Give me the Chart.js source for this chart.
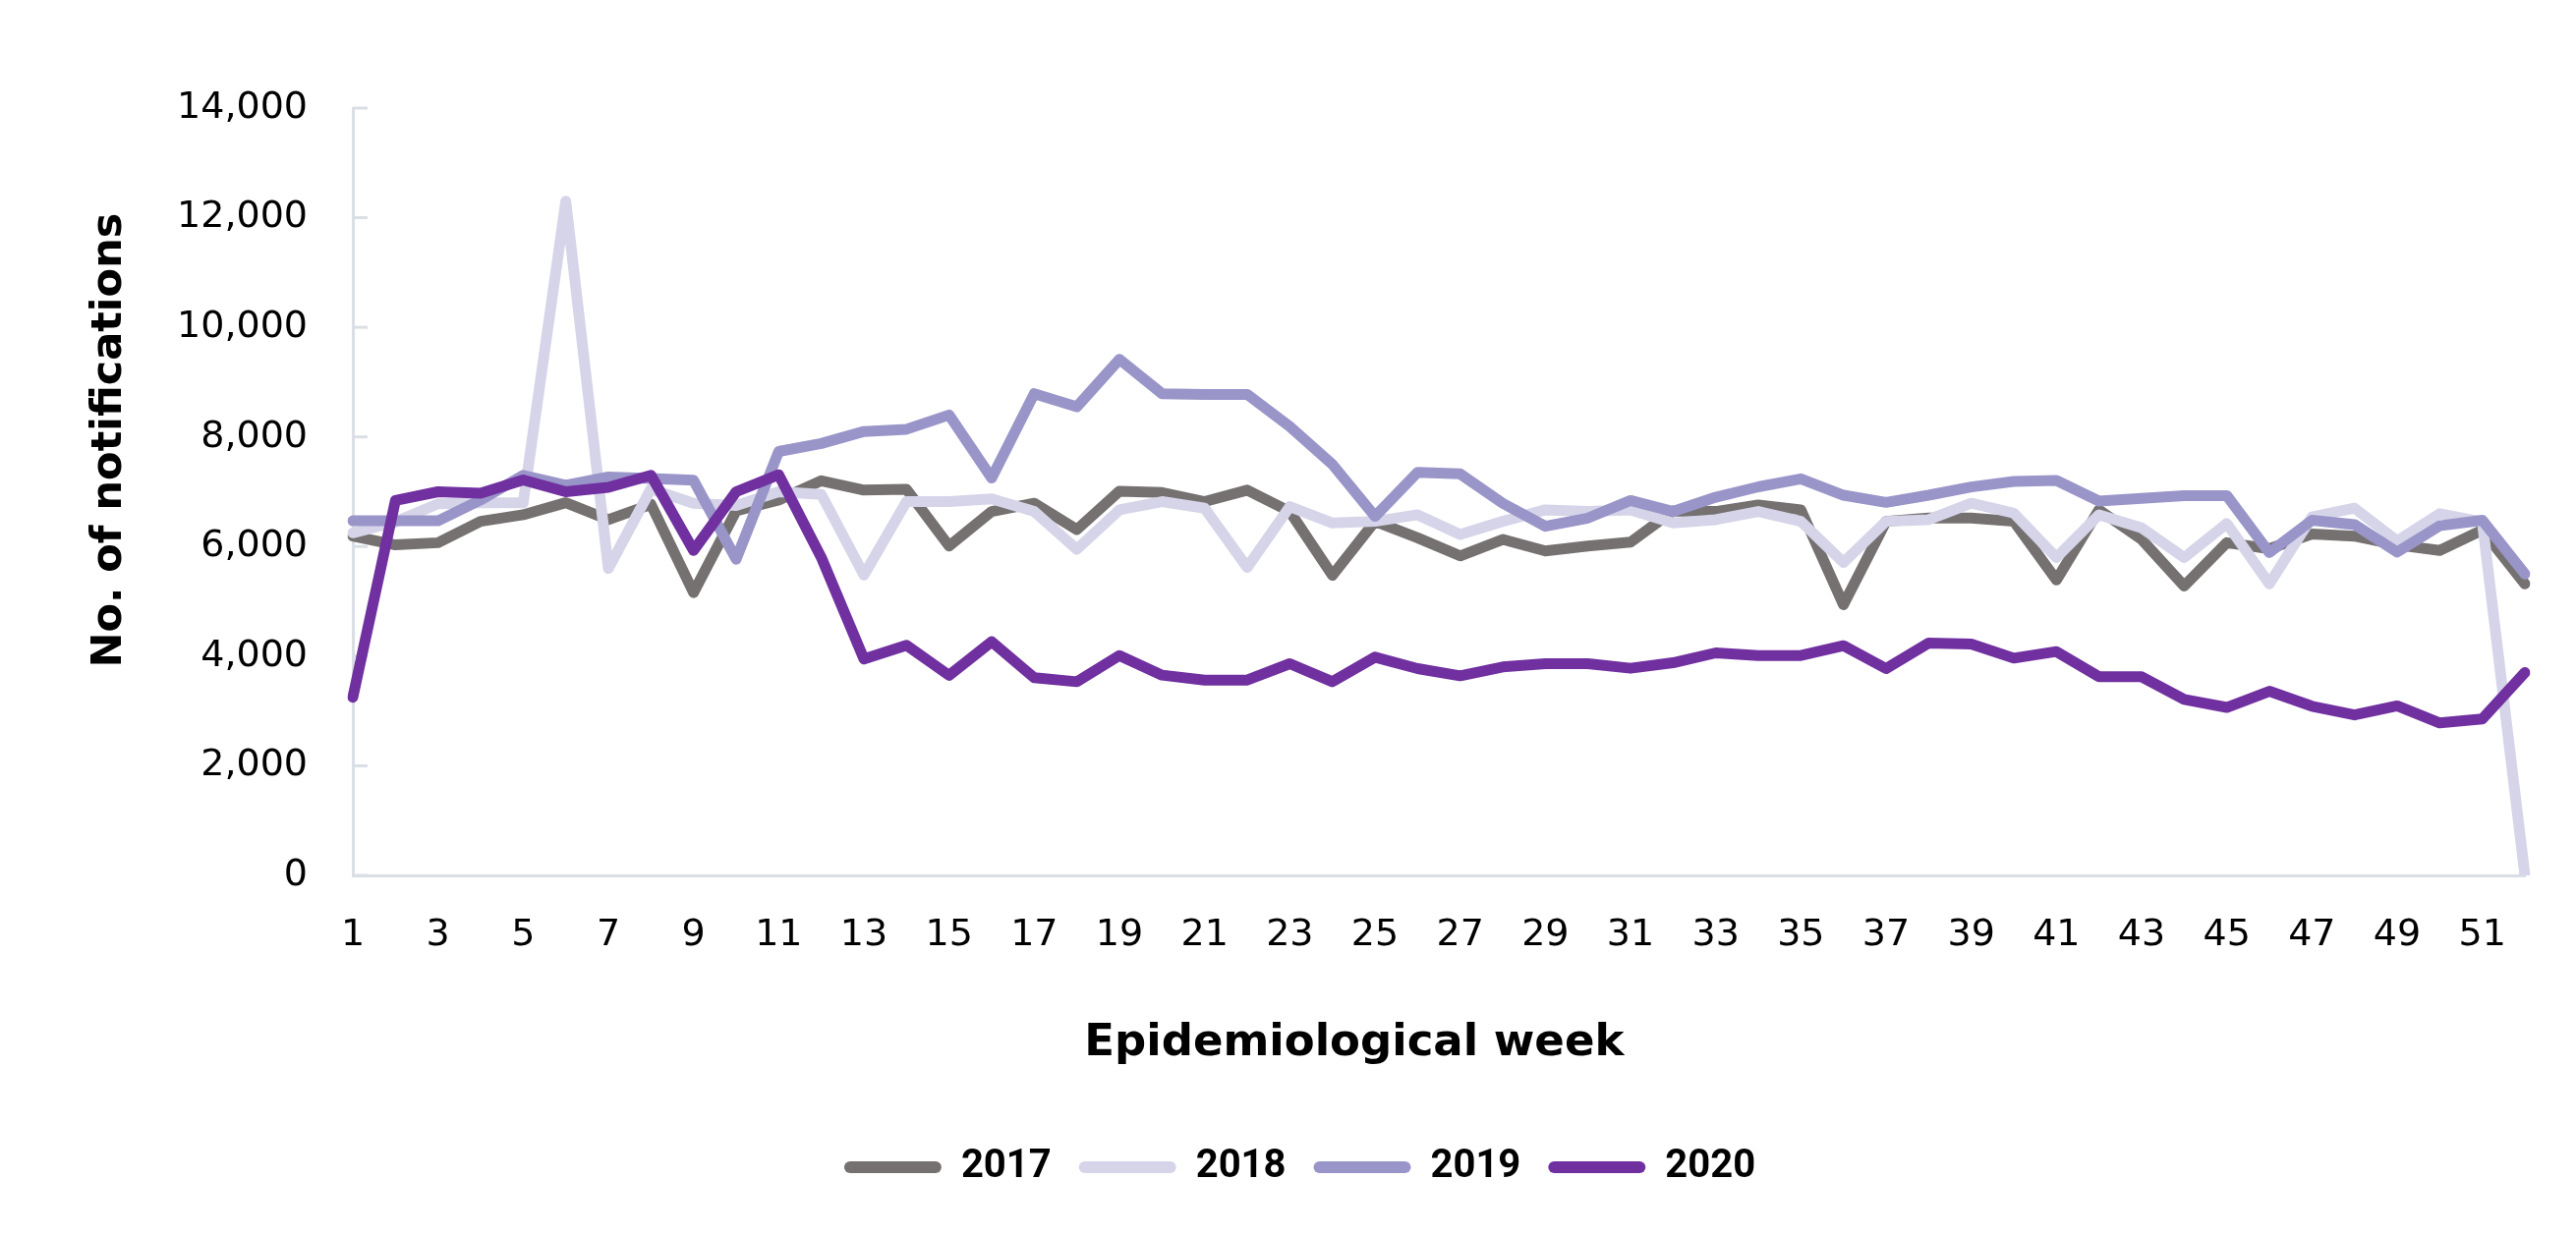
<!DOCTYPE html>
<html>
<head>
<meta charset="utf-8">
<script src="https://cdn.jsdelivr.net/npm/chart.js@4.4.1/dist/chart.umd.min.js"></script>
<style>
  html, body { margin: 0; padding: 0; background: #fff; }
  #wrap { width: 2621px; height: 1258px; }
</style>
</head>
<body>
<div id="wrap"><canvas id="chart"></canvas></div>
<script>
// weekly notification counts
const weeks = Array.from({ length: 52 }, (_, i) => String(i + 1));

const y2017 = [6190, 6030, 6070, 6460, 6580, 6800, 6490, 6770, 5160, 6650,
  6850, 7200, 7030, 7045, 6010, 6640, 6790, 6310, 7010, 6985,
  6820, 7030, 6640, 5475, 6460, 6160, 5830, 6130, 5920, 6010,
  6080, 6650, 6640, 6760, 6670, 4940, 6460, 6520, 6520, 6460,
  5390, 6670, 6130, 5280, 6070, 5960, 6230, 6190, 6030, 5930,
  6300, 5320];

const y2018 = [6250, 6450, 6780, 6800, 6800, 12300, 5600, 7050, 6790, 6750,
  7000, 6950, 5480, 6820, 6820, 6870, 6640, 5950, 6670, 6820,
  6700, 5620, 6730, 6430, 6460, 6580, 6220, 6460, 6670, 6640,
  6670, 6430, 6490, 6640, 6460, 5710, 6460, 6490, 6790, 6610,
  5800, 6580, 6340, 5800, 6420, 5320, 6540, 6700, 6100, 6600,
  6450, 0];

const y2019 = [6470, 6470, 6470, 6850, 7300, 7120, 7270, 7240, 7210, 5770,
  7735, 7880, 8100, 8140, 8400, 7250, 8790, 8550, 9415, 8790,
  8775, 8775, 8190, 7500, 6550, 7355, 7325, 6790, 6370, 6520,
  6840, 6640, 6900, 7090, 7236, 6937, 6806, 6937, 7087, 7188,
  7206, 6830, 6878, 6930, 6930, 5890, 6480, 6400, 5900, 6380,
  6480, 5500];

const y2020 = [3250, 6840, 7000, 6975, 7215, 7000, 7080, 7300, 5930, 7000,
  7310, 5800, 3950, 4200, 3650, 4265, 3606, 3534, 4012, 3654,
  3564, 3564, 3863, 3534, 3982, 3773, 3642, 3803, 3863, 3863,
  3780, 3880, 4060, 4012, 4012, 4191, 3773, 4239, 4221, 3964,
  4084, 3624, 3624, 3210, 3065, 3360, 3087, 2927, 3093, 2782,
  2854, 3700];

const seriesNames = ['2017', '2018', '2019', '2020'];
const seriesData = [y2017, y2018, y2019, y2020];
const seriesColors = ['#767171', '#D6D4E9', '#9A95C9', '#7030A0'];

const axisColor = '#DADEE5';

Chart.defaults.font.family = '"DejaVu Sans", sans-serif';
Chart.defaults.color = '#000';

// small tick marks drawn inside the plot, like the original
const insideTicks = {
  id: 'insideTicks',
  beforeDatasetsDraw(chart) {
    const { ctx, chartArea, scales: { y } } = chart;
    ctx.save();
    ctx.strokeStyle = axisColor;
    ctx.lineWidth = 3;
    y.ticks.forEach(t => {
      const py = y.getPixelForValue(t.value);
      ctx.beginPath();
      ctx.moveTo(chartArea.left, py);
      ctx.lineTo(chartArea.left + 15, py);
      ctx.stroke();
    });
    ctx.restore();
  }
};

new Chart(document.getElementById('chart'), {
  type: 'line',
  data: {
    labels: weeks,
    datasets: seriesNames.map((name, i) => ({
      label: name,
      data: seriesData[i],
      borderColor: seriesColors[i],
      backgroundColor: seriesColors[i],
      borderWidth: 11,
      pointRadius: 0,
      tension: 0,
      borderJoinStyle: 'round',
      borderCapStyle: 'round',
      // later years drawn on top
      order: seriesNames.length - i
    }))
  },
  options: {
    responsive: true,
    maintainAspectRatio: false,
    animation: false,
    devicePixelRatio: 1,
    layout: { padding: { top: 110, right: 52, bottom: 40, left: 76 } },
    plugins: {
      tooltip: { enabled: false },
      legend: {
        position: 'bottom',
        labels: {
          font: { family: 'Roboto', size: 40, weight: 'bold' },
          color: '#000',
          boxWidth: 99,
          boxHeight: 12,
          padding: 28,
          useBorderRadius: true,
          borderRadius: 6,
          sort: (a, b) => a.datasetIndex - b.datasetIndex,
          generateLabels(chart) {
            const items = Chart.defaults.plugins.legend.labels.generateLabels(chart);
            items.forEach(it => { it.lineWidth = 0; });
            return items;
          }
        }
      }
    },
    scales: {
      x: {
        type: 'category',
        offset: false,
        grid: { display: false, drawTicks: false },
        border: { color: axisColor, width: 3 },
        ticks: {
          autoSkip: false,
          maxRotation: 0,
          padding: 38,
          font: { size: 38 },
          callback(value, index) {
            return index % 2 === 0 ? this.getLabelForValue(value) : '';
          }
        },
        title: {
          display: true,
          // trailing spaces nudge the title left, as in the original
          text: 'Epidemiological week' + ' '.repeat(11),
          font: { size: 45, weight: 'bold' },
          padding: { top: 0, bottom: 51 }
        },
        afterFit(scale) { scale.height = 249; }
      },
      y: {
        min: 0,
        max: 14000,
        grid: { display: false, drawTicks: false },
        border: { color: axisColor, width: 3 },
        ticks: {
          stepSize: 2000,
          padding: 46,
          font: { size: 38 }
        },
        title: {
          display: true,
          // leading spaces lift the title a bit, as in the original
          text: ' '.repeat(7) + 'No. of notifications',
          font: { size: 43, weight: 'bold' },
          padding: { top: 10, bottom: 0 }
        },
        afterFit(scale) { scale.width = 283; }
      }
    }
  },
  plugins: [insideTicks]
});
</script>
</body>
</html>
